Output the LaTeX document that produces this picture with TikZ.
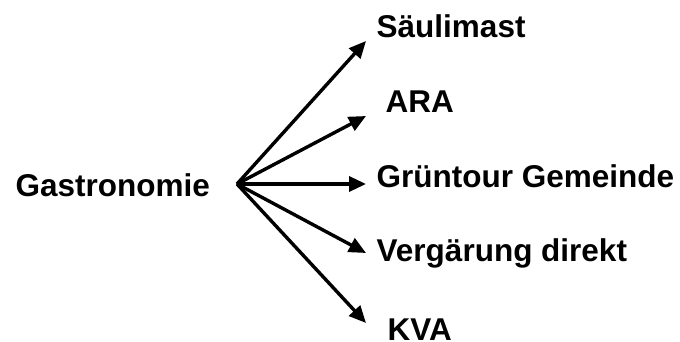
\documentclass[tikz,border=0pt]{standalone}
\usepackage{fontspec}
\setmainfont{Liberation Sans}
\usetikzlibrary{arrows.meta}
\begin{document}
\begin{tikzpicture}[x=1pt,y=-1pt,line width=3.4pt,draw=black!100]
	\def \srcx{237}
	\def \tipx{366}
	\tikzstyle{lbl}=[anchor=base west,inner sep=0pt,font=\fontsize{31.5}{36}\selectfont\bfseries]
	\tikzstyle{feed}=[-{Triangle[length=17pt,width=15pt]}]
	\useasboundingbox (0,0) rectangle (680,342);
	% source
	\node[lbl] 	(gastro)	at (14,196)		{Gastronomie};
	\coordinate (src)	at (\srcx,184);
	
	% targets
	\node[lbl] 	(saeuli)	at (375,38)		{Säulimast};
	\node[lbl] 	(ara)		at (384,113)	{ARA};
	\node[lbl] 	(gruen)		at (375,187)	{Grüntour Gemeinde};
	\node[lbl] 	(vergaer)	at (375,261)	{Vergärung direkt};
	\node[lbl] 	(kva)		at (386,340)	{KVA};
	
	% arrow tips
	\coordinate (t-saeuli)	at (\tipx,41);
	\coordinate (t-ara)		at (\tipx,116);
	\coordinate (t-gruen)	at (\tipx,184);
	\coordinate (t-vergaer)	at (\tipx,253);
	\coordinate (t-kva)		at (\tipx,323);
	
	\path[feed]
		(src)	edge	(t-saeuli)
		(src)	edge	(t-ara)
		(src)	edge	(t-gruen)
		(src)	edge	(t-vergaer)
		(src)	edge	(t-kva);
		
\end{tikzpicture}
\end{document}
